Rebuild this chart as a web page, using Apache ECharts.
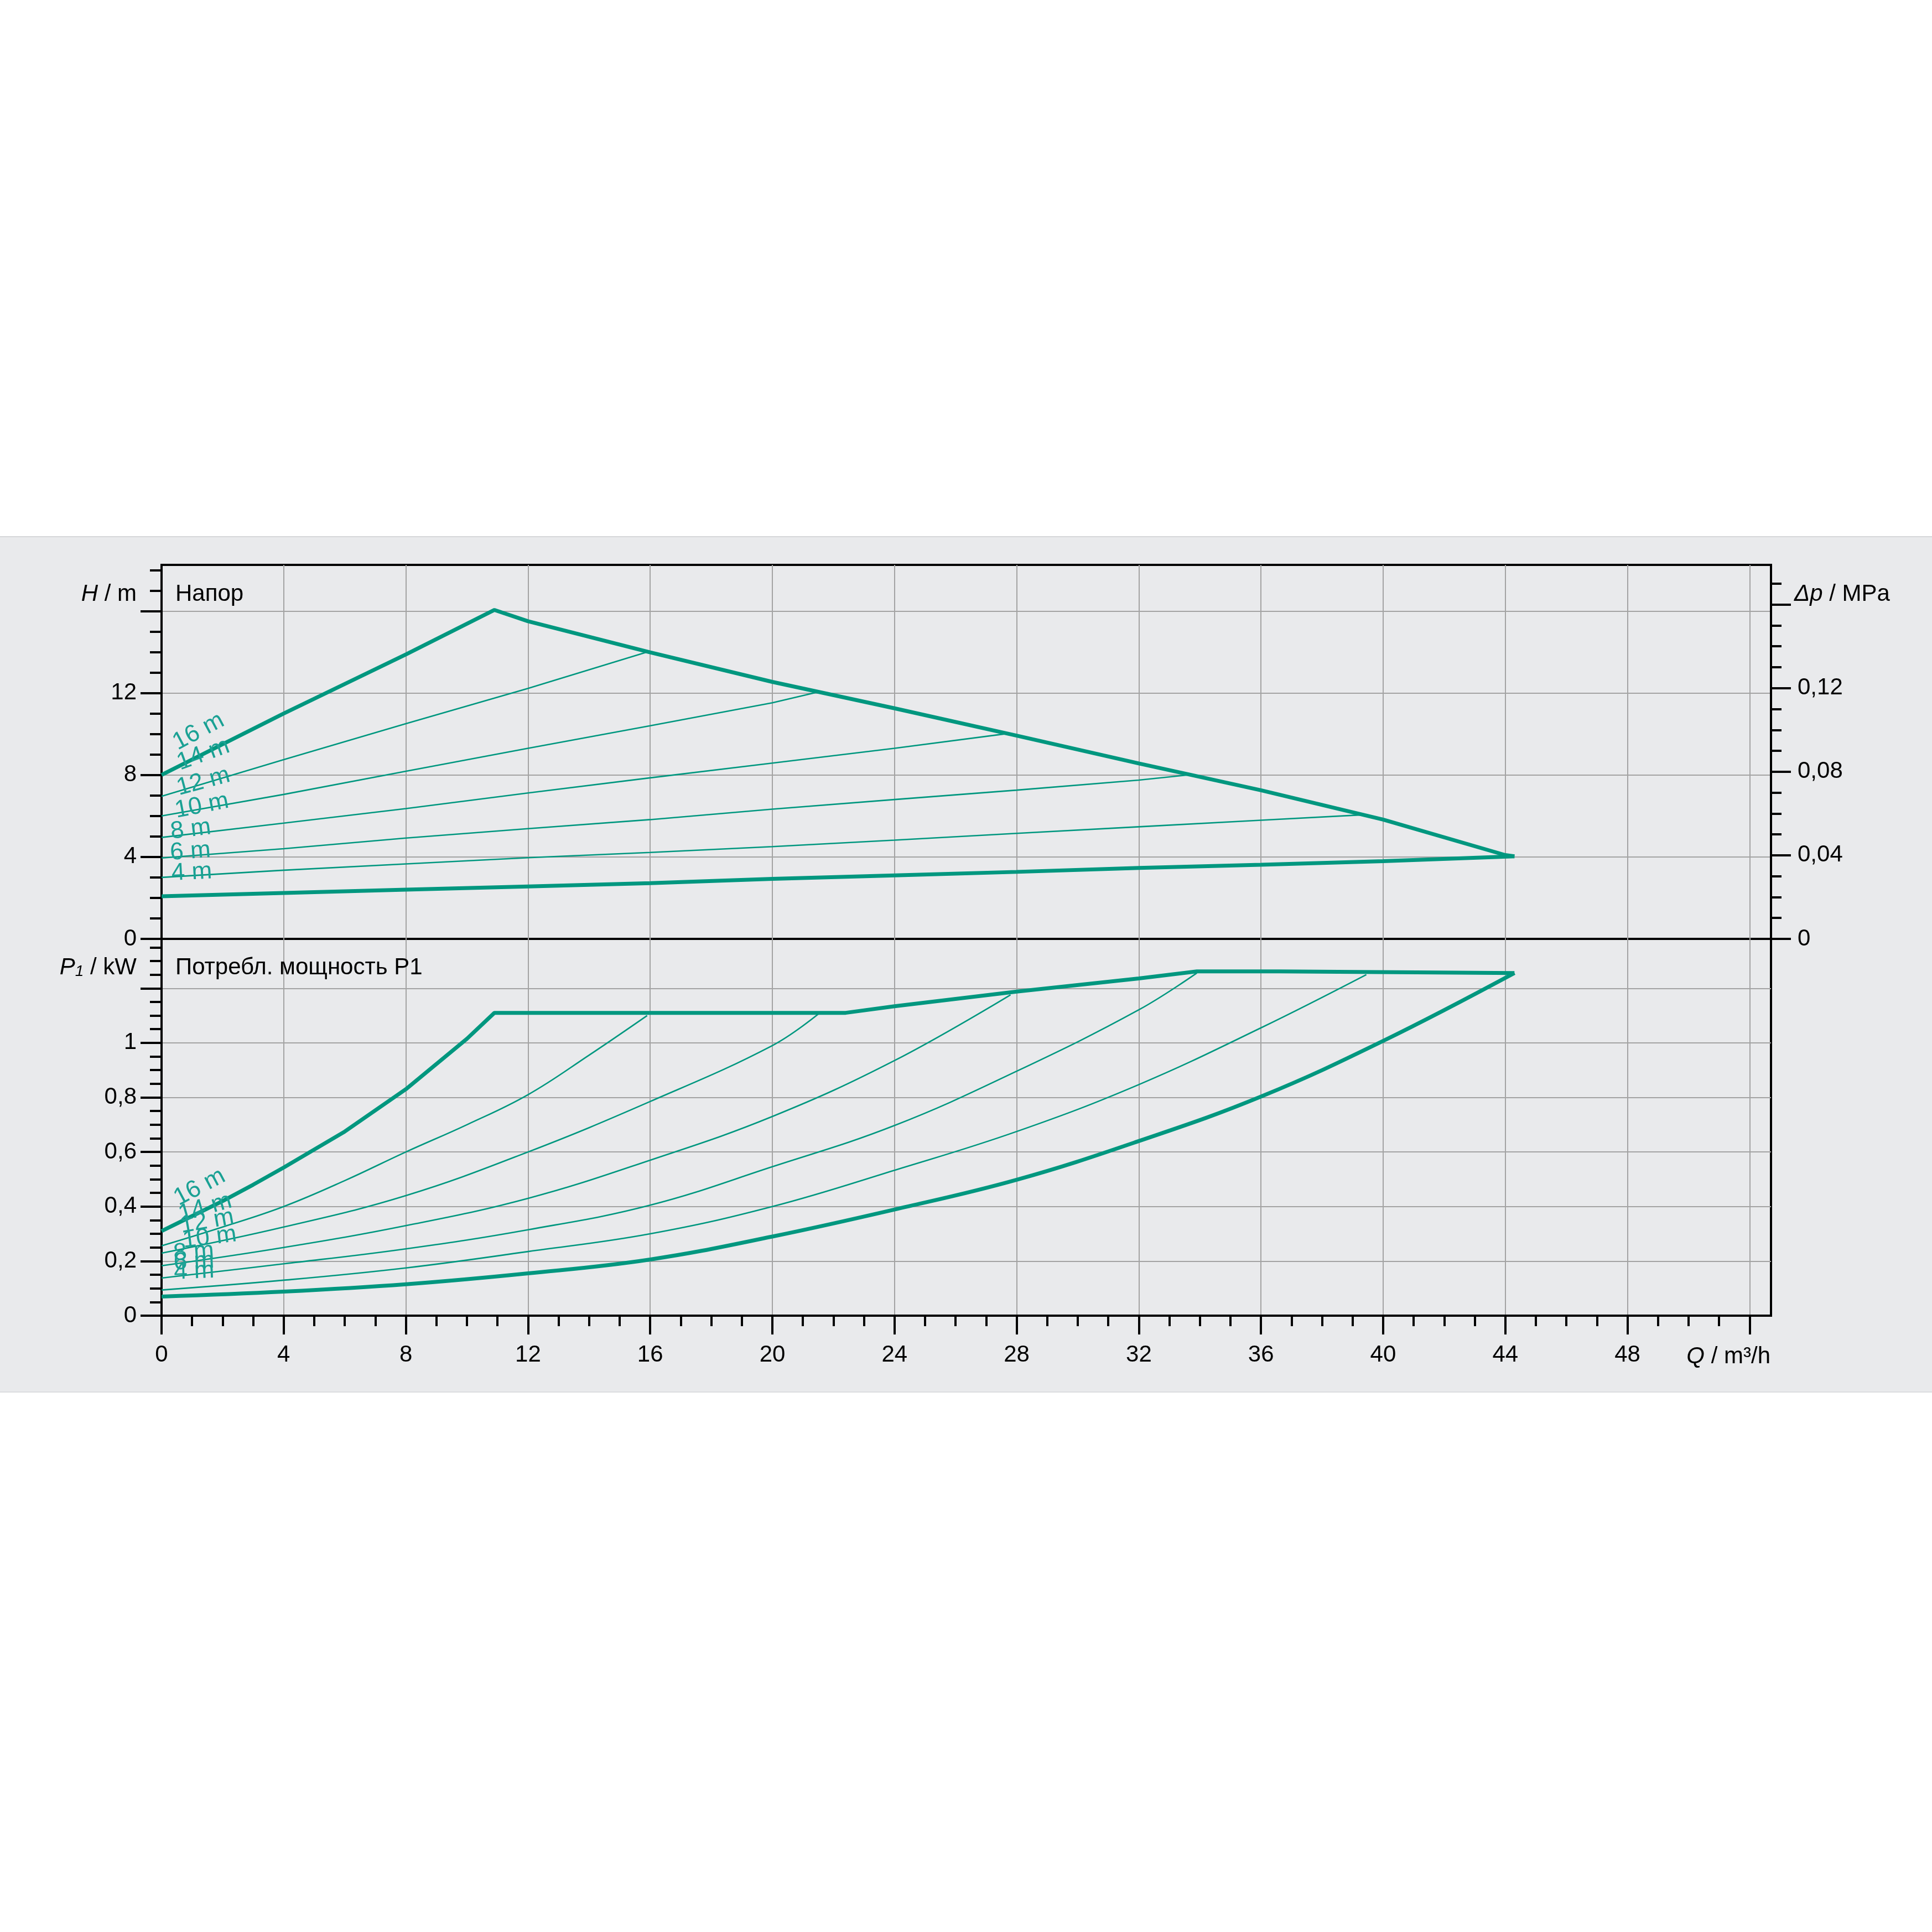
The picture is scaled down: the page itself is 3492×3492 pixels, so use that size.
<!DOCTYPE html>
<html>
<head>
<meta charset="utf-8">
<script src="https://cdn.jsdelivr.net/npm/echarts@6/dist/echarts.min.js"></script>
<style>
html,body{margin:0;padding:0;background:#ffffff;}
#chart{width:3492px;height:3492px;}
</style>
</head>
<body>
<div id="chart"></div>
<script>
// ---------------- DATA ----------------
// Head curves H [m] vs Q [m³/h]
const qH16 = [0, 4, 8, 10.9, 12, 16, 20, 24, 28, 32, 36, 40, 44, 44.3];
const hH16 = [8.0, 11.0, 13.88, 16.05, 15.5, 13.98, 12.54, 11.25, 9.92, 8.56, 7.25, 5.82, 4.09, 4.03];
const qH14 = [0, 4, 8, 12, 15.9];
const hH14 = [6.96, 8.75, 10.5, 12.22, 14.0];
const qH12 = [0, 4, 8, 12, 16, 20, 21.5];
const hH12 = [6.0, 7.05, 8.18, 9.3, 10.4, 11.52, 12.05];
const qH10 = [0, 4, 8, 12, 16, 20, 24, 27.6];
const hH10 = [4.95, 5.65, 6.36, 7.12, 7.86, 8.58, 9.3, 10.0];
const qH8 = [0, 4, 8, 12, 16, 20, 24, 28, 32, 33.6];
const hH8 = [3.95, 4.4, 4.92, 5.38, 5.82, 6.33, 6.8, 7.26, 7.75, 8.0];
const qH6 = [0, 4, 8, 12, 16, 20, 24, 28, 32, 36, 39.3];
const hH6 = [3.0, 3.35, 3.66, 3.96, 4.22, 4.5, 4.82, 5.15, 5.47, 5.79, 6.05];
const qH4 = [0, 4, 8, 12, 16, 20, 24, 28, 32, 36, 40, 44.3];
const hH4 = [2.08, 2.24, 2.4, 2.56, 2.72, 2.93, 3.1, 3.27, 3.46, 3.62, 3.79, 4.03];

// Power curves P1 [kW] vs Q [m³/h]
const qP16 = [0, 1, 2, 3, 4, 6, 8, 10, 10.9, 22.4, 24, 28, 32, 33.9, 36.6, 44.3];
const pP16 = [0.31, 0.365, 0.42, 0.48, 0.543, 0.675, 0.83, 1.015, 1.11, 1.11, 1.134, 1.188, 1.236, 1.262, 1.262, 1.256];
const qP14 = [0, 2, 4, 6, 8, 10, 12, 14, 15.9];
const pP14 = [0.256, 0.325, 0.40, 0.495, 0.60, 0.70, 0.81, 0.955, 1.10];
const qP12 = [0, 4, 8, 12, 16, 20, 21.5];
const pP12 = [0.229, 0.325, 0.44, 0.60, 0.785, 0.99, 1.105];
const qP10 = [0, 4, 8, 12, 16, 20, 24, 27.8];
const pP10 = [0.183, 0.25, 0.33, 0.43, 0.57, 0.73, 0.935, 1.176];
const qP8 = [0, 4, 8, 12, 16, 20, 24, 28, 32, 33.9];
const pP8 = [0.138, 0.19, 0.245, 0.315, 0.405, 0.546, 0.697, 0.896, 1.121, 1.256];
const qP6 = [0, 4, 8, 12, 16, 20, 24, 28, 32, 36, 39.45];
const pP6 = [0.094, 0.13, 0.175, 0.235, 0.30, 0.40, 0.533, 0.675, 0.847, 1.055, 1.25];
const qP4 = [0, 4, 8, 12, 16, 20, 24, 28, 32, 36, 40, 44.3];
const pP4 = [0.07, 0.088, 0.115, 0.155, 0.206, 0.29, 0.389, 0.498, 0.64, 0.803, 1.007, 1.256];

const curveNames = ['16 m', '14 m', '12 m', '10 m', '8 m', '6 m', '4 m'];

// Axis ticks / labels
const qMajorTicks = [0, 4, 8, 12, 16, 20, 24, 28, 32, 36, 40, 44, 48, 52];
const qLabels = [0, 4, 8, 12, 16, 20, 24, 28, 32, 36, 40, 44, 48];
const qMinorTicks = [1, 2, 3, 5, 6, 7, 9, 10, 11, 13, 14, 15, 17, 18, 19, 21, 22, 23, 25, 26, 27, 29, 30, 31, 33, 34, 35, 37, 38, 39, 41, 42, 43, 45, 46, 47, 49, 50, 51];
const hMajorTicks = [0, 4, 8, 12, 16];
const hLabels = [0, 4, 8, 12];
const hMinorTicks = [1, 2, 3, 5, 6, 7, 9, 10, 11, 13, 14, 15, 17, 18];
const dpMajorTicks = [0, 0.04, 0.08, 0.12, 0.16];
const dpLabels = [0, 0.04, 0.08, 0.12];
const dpMinorTicks = [0.01, 0.02, 0.03, 0.05, 0.06, 0.07, 0.09, 0.10, 0.11, 0.13, 0.14, 0.15, 0.17];
const pMajorTicks = [0, 0.2, 0.4, 0.6, 0.8, 1.0, 1.2];
const pLabels = [0, 0.2, 0.4, 0.6, 0.8, 1.0];
const pMinorTicks = [0.05, 0.1, 0.15, 0.25, 0.3, 0.35, 0.45, 0.5, 0.55, 0.65, 0.7, 0.75, 0.85, 0.9, 0.95, 1.05, 1.1, 1.15, 1.25, 1.3, 1.35];

const Q_MAX = 52.7, H_MAX = 18.25, P_MAX = 1.381, M_PER_MPA = 101.97;

// ---------------- STYLE ----------------
const FONT = '"Liberation Sans", Arial, "DejaVu Sans", sans-serif';
const TEAL = '#00977f';
const LABEL_TEAL = '#1aa194';
const GRIDLINE = '#a3a3a3';
const FS = 42;

const fmtComma = v => String(+(+v).toFixed(3)).replace('.', ',');

function xAxisBase(gridIndex) {
  return { type: 'value', gridIndex, position: 'bottom', min: 0, max: Q_MAX, interval: 4 };
}
const blackLine = { show: true, lineStyle: { color: '#000', width: 4 } };
const noLine = { show: false };
// split lines: hide the first one (lies on the frame); hide the last one only when it is the axis extent
const splitGray = (hideLast) => ({ show: true, showMinLine: false, showMaxLine: !hideLast, lineStyle: { color: GRIDLINE, width: 2 } });

const xAxes = [
  Object.assign(xAxisBase(0), { axisLine: noLine, axisTick: { show: false }, axisLabel: { show: false }, splitLine: splitGray(true) }),
  Object.assign(xAxisBase(1), {
    axisLine: blackLine,
    axisTick: { show: true, customValues: qMajorTicks, length: 34, lineStyle: { color: '#000', width: 4 } },
    axisLabel: { show: true, customValues: qLabels, margin: 50, fontSize: FS, fontFamily: FONT, color: '#000', formatter: fmtComma },
    splitLine: splitGray(false)
  }),
  Object.assign(xAxisBase(1), {
    interval: 1,
    axisLine: noLine,
    axisTick: { show: true, customValues: qMinorTicks, length: 19, lineStyle: { color: '#000', width: 4 } },
    axisLabel: { show: false }, splitLine: { show: false }
  })
];

const yAxes = [
  { type: 'value', gridIndex: 0, position: 'left', min: 0, max: H_MAX, interval: 4,
    axisLine: blackLine,
    axisTick: { show: true, customValues: hMajorTicks, length: 38, lineStyle: { color: '#000', width: 4 } },
    axisLabel: { show: true, customValues: hLabels, margin: 45, fontSize: FS, fontFamily: FONT, color: '#000', formatter: fmtComma },
    splitLine: splitGray(false) },
  { type: 'value', gridIndex: 0, position: 'left', min: 0, max: H_MAX, interval: 1,
    axisLine: noLine,
    axisTick: { show: true, customValues: hMinorTicks, length: 21, lineStyle: { color: '#000', width: 4 } },
    axisLabel: { show: false }, splitLine: { show: false } },
  { type: 'value', gridIndex: 0, position: 'right', min: 0, max: H_MAX / M_PER_MPA, interval: 0.04,
    axisLine: blackLine,
    axisTick: { show: true, customValues: dpMajorTicks, length: 36, lineStyle: { color: '#000', width: 4 } },
    axisLabel: { show: true, customValues: dpLabels, margin: 48, fontSize: FS, fontFamily: FONT, color: '#000', formatter: fmtComma },
    splitLine: { show: false } },
  { type: 'value', gridIndex: 0, position: 'right', min: 0, max: H_MAX / M_PER_MPA, interval: 0.01,
    axisLine: noLine,
    axisTick: { show: true, customValues: dpMinorTicks, length: 19, lineStyle: { color: '#000', width: 4 } },
    axisLabel: { show: false }, splitLine: { show: false } },
  { type: 'value', gridIndex: 1, position: 'left', min: 0, max: P_MAX, interval: 0.2,
    axisLine: blackLine,
    axisTick: { show: true, customValues: pMajorTicks, length: 38, lineStyle: { color: '#000', width: 4 } },
    axisLabel: { show: true, customValues: pLabels, margin: 45, fontSize: FS, fontFamily: FONT, color: '#000', formatter: fmtComma },
    splitLine: splitGray(false) },
  { type: 'value', gridIndex: 1, position: 'left', min: 0, max: P_MAX, interval: 0.05,
    axisLine: noLine,
    axisTick: { show: true, customValues: pMinorTicks, length: 21, lineStyle: { color: '#000', width: 4 } },
    axisLabel: { show: false }, splitLine: { show: false } }
];

function pairs(xs, ys) { return xs.map((x, i) => [x, ys[i]]); }
function line(name, xs, ys, xi, yi, width, smooth) {
  return {
    type: 'line', name, xAxisIndex: xi, yAxisIndex: yi,
    data: pairs(xs, ys), symbol: 'none', showSymbol: false,
    smooth: smooth || false,
    lineStyle: { color: TEAL, width }, z: width > 4 ? 4 : 3,
    animation: false, silent: true
  };
}

const THICK = 7, THIN = 2.6;
const series = [
  line('H 16 m', qH16, hH16, 0, 0, THICK),
  line('H 14 m', qH14, hH14, 0, 0, THIN),
  line('H 12 m', qH12, hH12, 0, 0, THIN),
  line('H 10 m', qH10, hH10, 0, 0, THIN),
  line('H 8 m', qH8, hH8, 0, 0, THIN),
  line('H 6 m', qH6, hH6, 0, 0, THIN),
  line('H 4 m', qH4, hH4, 0, 0, THICK),
  line('P 16 m', qP16, pP16, 1, 4, THICK),
  line('P 14 m', qP14, pP14, 1, 4, THIN, 0.4),
  line('P 12 m', qP12, pP12, 1, 4, THIN, 0.4),
  line('P 10 m', qP10, pP10, 1, 4, THIN, 0.4),
  line('P 8 m', qP8, pP8, 1, 4, THIN, 0.4),
  line('P 6 m', qP6, pP6, 1, 4, THIN, 0.4),
  line('P 4 m', qP4, pP4, 1, 4, THICK, 0.4)
];

const chart = echarts.init(document.getElementById('chart'), null, { renderer: 'canvas', width: 3492, height: 3492 });
chart.setOption({
  backgroundColor: '#ffffff',
  animation: false,
  grid: [
    { left: 292, right: 291, top: 1021, height: 676, show: true, borderColor: '#000', borderWidth: 4, backgroundColor: 'transparent', containLabel: false },
    { left: 292, right: 291, top: 1697, height: 681, show: true, borderColor: '#000', borderWidth: 4, backgroundColor: 'transparent', containLabel: false }
  ],
  xAxis: xAxes,
  yAxis: yAxes,
  series: series
});

// ---------------- TEXTS ----------------
const txt = (x, y, text, align, extra) => ({
  type: 'text', x, y, silent: true, z: 10,
  style: Object.assign({ text, fontFamily: FONT, fontSize: FS, fill: '#000', align: align, verticalAlign: 'middle' }, extra || {})
});
const italicRich = { i: { fontStyle: 'italic', fontFamily: FONT, fontSize: FS, fill: '#000' },
                     s: { fontStyle: 'italic', fontFamily: FONT, fontSize: 28, fill: '#000', padding: [14, 0, 0, 0] },
                     n: { fontFamily: FONT, fontSize: FS, fill: '#000' } };

const graphics = [
  { type: 'rect', z: -100, silent: true, shape: { x: 0, y: 970, width: 3492, height: 1546 }, style: { fill: '#e9eaec' } },
  { type: 'line', z: -99, silent: true, shape: { x1: 0, y1: 970, x2: 3492, y2: 970 }, style: { stroke: '#d6d7d9', lineWidth: 2 } },
  { type: 'line', z: -99, silent: true, shape: { x1: 0, y1: 2516, x2: 3492, y2: 2516 }, style: { stroke: '#dcdddf', lineWidth: 2 } },
  txt(317, 1074, 'Напор', 'left'),
  txt(317, 1749, 'Потребл. мощность P1', 'left'),
  txt(247, 1074, '{i|H}{n| / m}', 'right', { rich: italicRich }),
  txt(247, 1749, '{i|P}{s|1}{n| / kW}', 'right', { rich: italicRich }),
  txt(3243, 1074, '{i|Δp}{n| / MPa}', 'left', { rich: italicRich }),
  txt(3200, 2452, '{i|Q}{n| / m³/h}', 'right', { rich: italicRich })
];

// curve labels near curve starts (offsets in pixels, rotation in degrees)
const hLabelLayout = [
  { dx: 34, dy: -36, rot: 28 }, { dx: 37, dy: -38, rot: 20 }, { dx: 34, dy: -28, rot: 15 },
  { dx: 29, dy: -26, rot: 11 }, { dx: 19, dy: -25, rot: 7 }, { dx: 17, dy: -22, rot: 4 }, { dx: 19, dy: -19, rot: 3 }
];
const pLabelLayout = [
  { dx: 36, dy: -37, rot: 28 }, { dx: 38, dy: -34, rot: 16 }, { dx: 38, dy: -27, rot: 10 },
  { dx: 41, dy: -23, rot: 7 }, { dx: 23, dy: -22, rot: 4 }, { dx: 23, dy: -27, rot: 3 }, { dx: 23, dy: -22, rot: 2 }
];
const hStarts = [hH16[0], hH14[0], hH12[0], hH10[0], hH8[0], hH6[0], hH4[0]];
const pStarts = [pP16[0], pP14[0], pP12[0], pP10[0], pP8[0], pP6[0], pP4[0]];

function curveLabel(pt, lay, text) {
  return {
    type: 'text', x: pt[0] + lay.dx, y: pt[1] + lay.dy, rotation: lay.rot * Math.PI / 180,
    silent: true, z: 12,
    style: { text, fontFamily: FONT, fontSize: 44, fill: LABEL_TEAL, align: 'left', verticalAlign: 'bottom' }
  };
}
curveNames.forEach((name, i) => {
  const ph = chart.convertToPixel({ xAxisIndex: 0, yAxisIndex: 0 }, [0, hStarts[i]]);
  graphics.push(curveLabel(ph, hLabelLayout[i], name));
  const pp = chart.convertToPixel({ xAxisIndex: 1, yAxisIndex: 4 }, [0, pStarts[i]]);
  graphics.push(curveLabel(pp, pLabelLayout[i], name));
});

chart.setOption({ graphic: graphics });
</script>
</body>
</html>
